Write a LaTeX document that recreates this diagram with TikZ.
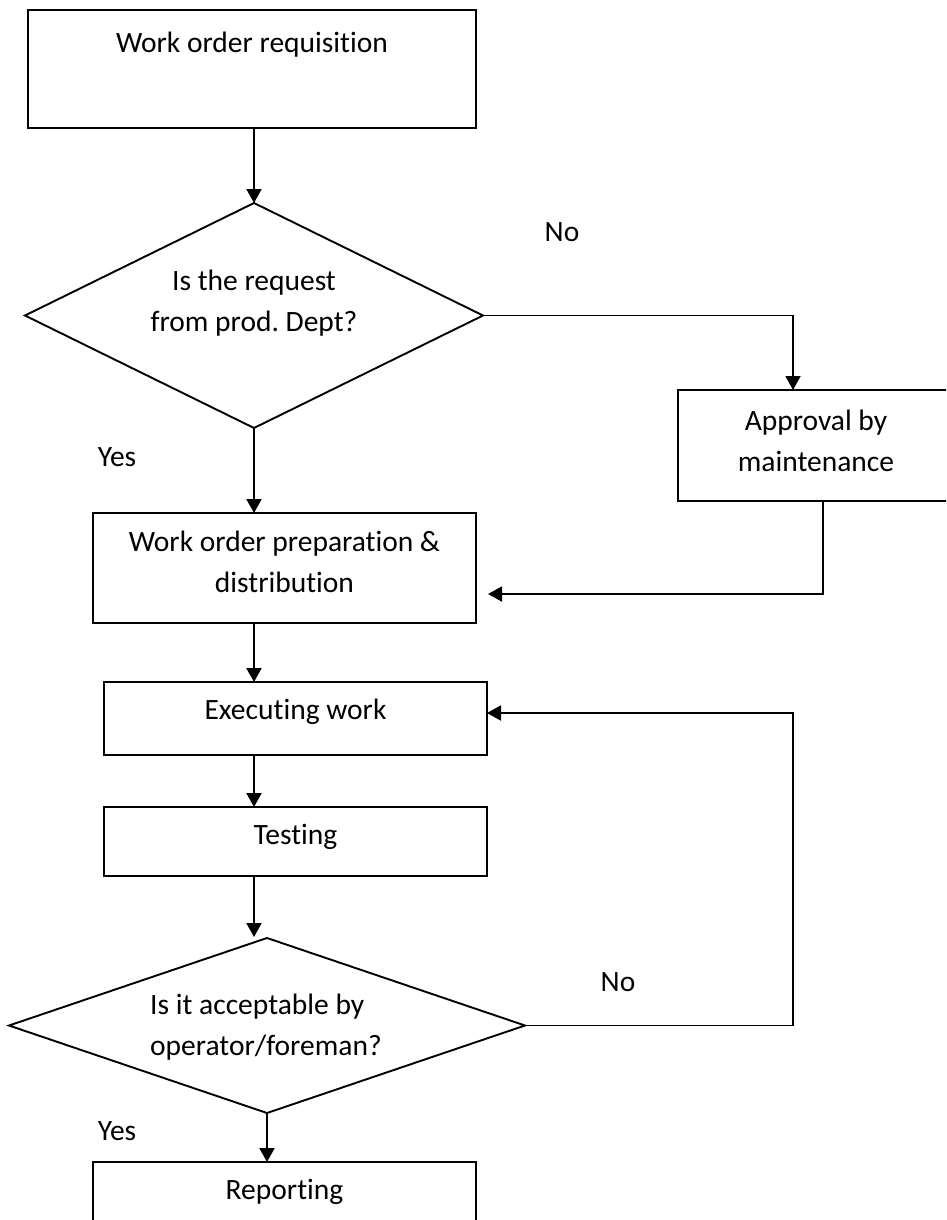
\documentclass[tikz,border=0pt]{standalone}
\usepackage{fontspec}
\setmainfont{Carlito}[Ligatures={NoCommon}]
\usetikzlibrary{arrows.meta,shapes.geometric,calc}
\frenchspacing

\tikzset{
  flow/.style={line width=1.9pt, draw=black},
  arr/.style={flow, -{Triangle[length=14pt,width=15pt]}},
  procbox/.style={flow, rectangle, inner sep=0pt, outer sep=0pt},
  decision/.style={flow, diamond, inner sep=0pt, outer sep=0pt},
  lbl/.style={font=\fontsize{29.5pt}{41pt}\selectfont, inner sep=0pt, align=center},
}

\begin{document}
\begin{tikzpicture}[x=1pt, y=-1pt]
  \useasboundingbox (0,0) rectangle (946,1220);
  \clip (0,0) rectangle (946,1220);

  % main column of the chart
  \coordinate (col) at (254,0);

  % boxes
  \node[procbox, minimum width=448pt, minimum height=118pt] (req) at (252,69) {};
  \node[lbl] (reqtext) at (252,45) {Work order requisition};

  \node[decision, minimum width=458pt, minimum height=225pt] (dec1) at (254,315.5) {};
  \node[lbl] (dec1text) at (254,303) {Is the request\\from prod. Dept?};

  \node[procbox, minimum width=276pt, minimum height=111pt] (appr) at (816,445.5) {};
  \node[lbl] (apprtext) at (816,441) {Approval by\\maintenance};

  \node[procbox, minimum width=383pt, minimum height=110pt] (prep) at (284.5,568) {};
  \node[lbl] (preptext) at (284.5,562) {Work order preparation \&\\distribution};

  \node[procbox, minimum width=383pt, minimum height=73pt] (exec) at (295.5,718.5) {};
  \node[lbl] (exectext) at (295.5,712) {Executing work};

  \node[procbox, minimum width=383pt, minimum height=69pt] (test) at (295.5,841.5) {};
  \node[lbl] (testtext) at (295.5,837) {Testing};

  \node[decision, minimum width=516pt, minimum height=175pt] (dec2) at (267,1025.5) {};
  \node[lbl, align=left, anchor=west] (dec2text) at (150,1027) {Is it acceptable by\\operator/foreman?};

  \node[procbox, minimum width=383pt, minimum height=80pt] (report) at (284.5,1202) {};
  \node[lbl] (reporttext) at (284.5,1192) {Reporting};

  % branch labels
  \node[lbl] (no1) at (562,232) {No};
  \node[lbl] (yes1) at (117,457) {Yes};
  \node[lbl] (no2) at (618,982) {No};
  \node[lbl] (yes2) at (117,1131) {Yes};

  % free ends of arrows that stop short of a box
  \coordinate (prepin) at (488,594);
  \coordinate (dec2in) at (254,937);

  % connectors
  \draw[arr] (req.south -| col) -- (dec1.north);
  \draw[arr] (dec1.east) -| ([xshift=-23pt]appr.north);
  \draw[arr] (dec1.south) -- (prep.north -| col);
  \draw[arr] ([xshift=7pt]appr.south) |- (prepin);
  \draw[arr] (prep.south -| col) -- (exec.north -| col);
  \draw[arr] (exec.south -| col) -- (test.north -| col);
  \draw[arr] (test.south -| col) -- (dec2in);
  \draw[arr] (dec2.south) -- (report.north -| dec2.south);
  \draw[arr] (dec2.east) -- ++(268,0) |- ([yshift=5.5pt]exec.east);
\end{tikzpicture}
\end{document}
